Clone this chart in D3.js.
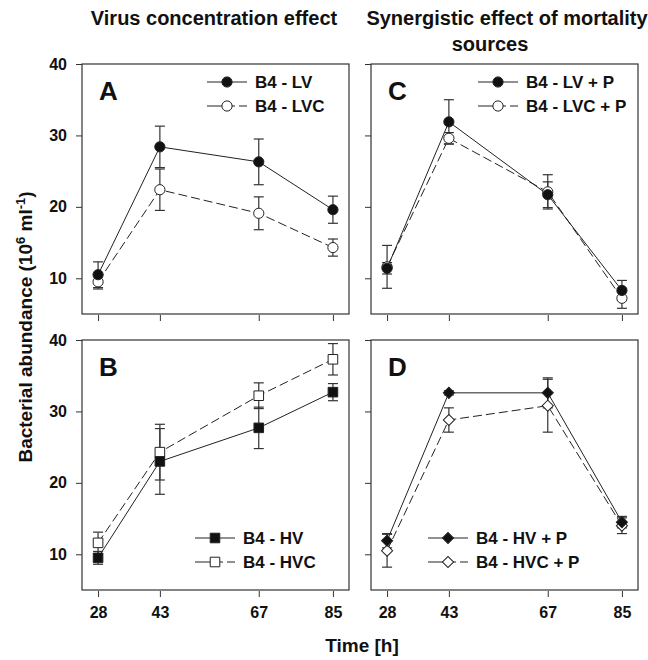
<!DOCTYPE html>
<html>
<head>
<meta charset="utf-8">
<script src="https://cdn.jsdelivr.net/npm/d3@7"></script>
<style>
  body { margin: 0; background: #fff; }
  svg { display: block; }
  text { font-family: "Liberation Sans", Arial, sans-serif; font-weight: bold; fill: #111; }
</style>
</head>
<body>
<div class="chart"></div>
<script>
var svgWidth = 648;
var svgHeight = 660;

// time points (h) and y ticks
var times = [28, 43, 67, 85];
var yTicks = [10, 20, 30, 40];

// panel A
var lv = [10.5, 28.4, 26.3, 19.6];
var lvErr = [1.8, 2.9, 3.2, 1.9];
var lvc = [9.5, 22.4, 19.1, 14.3];
var lvcErr = [1.0, 2.9, 2.3, 1.2];

// panel B
var hv = [9.5, 23.0, 27.7, 32.7];
var hvErr = [0.9, 4.6, 2.9, 1.2];
var hvc = [11.6, 24.3, 32.2, 37.3];
var hvcErr = [1.5, 3.9, 1.8, 2.2];

// panel C
var lvP = [11.4, 31.9, 21.7, 8.3];
var lvPErr = [0.8, 3.1, 1.8, 1.4];
var lvcP = [11.6, 29.6, 22.1, 7.2];
var lvcPErr = [3.0, 0.8, 2.4, 1.4];

// panel D
var hvP = [11.9, 32.6, 32.6, 14.5];
var hvPErr = [1.0, 0.3, 2.1, 0.8];
var hvcP = [10.5, 28.8, 30.8, 14.0];
var hvcPErr = [2.3, 1.7, 3.7, 1.1];

var panels = [
  { letter: "A", x: 82, y: 64, yLabels: true, xLabels: false, legendPos: "top", legendX: 207,
    series: [
      { name: "B4 - LV", values: lv, err: lvErr, shape: "circle", fill: "#111", dash: null },
      { name: "B4 - LVC", values: lvc, err: lvcErr, shape: "circle", fill: "#fff", dash: "9,4" }
    ] },
  { letter: "C", x: 371, y: 64, yLabels: false, xLabels: false, legendPos: "top", legendX: 478,
    series: [
      { name: "B4 - LV + P", values: lvP, err: lvPErr, shape: "circle", fill: "#111", dash: null },
      { name: "B4 - LVC + P", values: lvcP, err: lvcPErr, shape: "circle", fill: "#fff", dash: "9,4" }
    ] },
  { letter: "B", x: 82, y: 340, yLabels: true, xLabels: true, legendPos: "bottom", legendX: 195,
    series: [
      { name: "B4 - HV", values: hv, err: hvErr, shape: "square", fill: "#111", dash: null },
      { name: "B4 - HVC", values: hvc, err: hvcErr, shape: "square", fill: "#fff", dash: "9,4" }
    ] },
  { letter: "D", x: 371, y: 340, yLabels: false, xLabels: true, legendPos: "bottom", legendX: 428,
    series: [
      { name: "B4 - HV + P", values: hvP, err: hvPErr, shape: "diamond", fill: "#111", dash: null },
      { name: "B4 - HVC + P", values: hvcP, err: hvcPErr, shape: "diamond", fill: "#fff", dash: "9,4" }
    ] }
];

var pw = 267;
var ph = 250;

var svg = d3.select(".chart")
  .append("svg")
  .attr("width", svgWidth)
  .attr("height", svgHeight);

var xScale = d3.scaleLinear().domain([24.1, 88.9]).range([0, pw]);
var yScale = d3.scaleLinear().domain([5, 40]).range([ph, 0]);

var symbols = {
  circle: d3.symbol().type(d3.symbolCircle).size(82),
  square: d3.symbol().type(d3.symbolSquare).size(92),
  diamond: d3.symbol().type(d3.symbolSquare).size(62)
};

function drawMarker(g, s, x, y) {
  g.append("path")
    .attr("d", symbols[s.shape]())
    .attr("transform", `translate(${x},${y})` + (s.shape == "diamond" ? " rotate(45)" : ""))
    .attr("fill", s.fill)
    .attr("stroke", "#222")
    .attr("stroke-width", 1);
}

panels.forEach(function(p) {
  var g = svg.append("g").attr("transform", `translate(${p.x}, ${p.y})`);

  // frame
  g.append("rect")
    .attr("width", pw).attr("height", ph)
    .attr("fill", "none").attr("stroke", "#333").attr("stroke-width", 1.2);

  // y axis
  var leftAxis = d3.axisLeft(yScale).tickValues(yTicks).tickSize(6).tickPadding(9)
    .tickFormat(p.yLabels ? d3.format("d") : "");
  var ya = g.append("g").call(leftAxis);
  ya.select(".domain").remove();
  ya.selectAll("line").attr("stroke", "#333");
  ya.selectAll("text").style("font-size", "16px").attr("fill", "#111");

  // x axis
  var bottomAxis = d3.axisBottom(xScale).tickValues(times).tickSize(6).tickPadding(10)
    .tickFormat(p.xLabels ? d3.format("d") : "");
  var xa = g.append("g").attr("transform", `translate(0, ${ph + 1})`).call(bottomAxis);
  xa.select(".domain").remove();
  xa.selectAll("line").attr("stroke", "#333");
  xa.selectAll("text").style("font-size", "16px").attr("fill", "#111");

  // panel letter
  g.append("text")
    .attr("x", 17).attr("y", 36)
    .style("font-size", "26px")
    .text(p.letter);

  // lines, dashed series first
  p.series.slice().reverse().forEach(function(s) {
    var line = d3.line()
      .x((d, i) => xScale(times[i]))
      .y(d => yScale(d));
    g.append("path")
      .datum(s.values)
      .attr("d", line)
      .attr("fill", "none")
      .attr("stroke", "#222")
      .attr("stroke-width", 1)
      .attr("stroke-dasharray", s.dash);
  });

  // error bars
  p.series.forEach(function(s) {
    s.values.forEach(function(v, i) {
      var x = xScale(times[i]);
      var y1 = yScale(v + s.err[i]);
      var y2 = yScale(v - s.err[i]);
      g.append("line").attr("x1", x).attr("x2", x).attr("y1", y1).attr("y2", y2)
        .attr("stroke", "#333").attr("stroke-width", 1.2);
      [y1, y2].forEach(function(yy) {
        g.append("line").attr("x1", x - 5).attr("x2", x + 5).attr("y1", yy).attr("y2", yy)
          .attr("stroke", "#333").attr("stroke-width", 1.2);
      });
    });
  });

  // markers, open series below filled
  p.series.slice().reverse().forEach(function(s) {
    s.values.forEach(function(v, i) {
      drawMarker(g, s, xScale(times[i]), yScale(v));
    });
  });

  // legend
  var ly = p.legendPos == "top" ? 18 : 198;
  p.series.forEach(function(s, k) {
    var yy = ly + k * 24;
    var lx = p.legendX - p.x;
    g.append("line")
      .attr("x1", lx).attr("x2", lx + 40)
      .attr("y1", yy).attr("y2", yy)
      .attr("stroke", "#222").attr("stroke-width", 1)
      .attr("stroke-dasharray", s.dash ? "18,4,6,4" : null);
    drawMarker(g, s, lx + 20, yy);
    g.append("text")
      .attr("x", lx + 48).attr("y", yy + 6)
      .style("font-size", "17px")
      .text(s.name);
  });
});

// column titles
svg.append("text")
  .attr("x", 214).attr("y", 25)
  .attr("text-anchor", "middle")
  .style("font-size", "20px")
  .text("Virus concentration effect");

svg.append("text")
  .attr("x", 507).attr("y", 25)
  .attr("text-anchor", "middle")
  .style("font-size", "20px")
  .text("Synergistic effect of mortality");

svg.append("text")
  .attr("x", 490).attr("y", 51)
  .attr("text-anchor", "middle")
  .style("font-size", "20px")
  .text("sources");

// y label
var yLab = svg.append("text")
  .attr("transform", "translate(32, 327) rotate(-90)")
  .attr("text-anchor", "middle")
  .style("font-size", "19px");
yLab.append("tspan").text("Bacterial abundance (10");
yLab.append("tspan").attr("dy", -7).style("font-size", "13px").text("6");
yLab.append("tspan").attr("dy", 7).text(" ml");
yLab.append("tspan").attr("dy", -7).style("font-size", "13px").text("-1");
yLab.append("tspan").attr("dy", 7).text(")");

// x label
svg.append("text")
  .attr("x", 362).attr("y", 652)
  .attr("text-anchor", "middle")
  .style("font-size", "19px")
  .text("Time [h]");
</script>
</body>
</html>
